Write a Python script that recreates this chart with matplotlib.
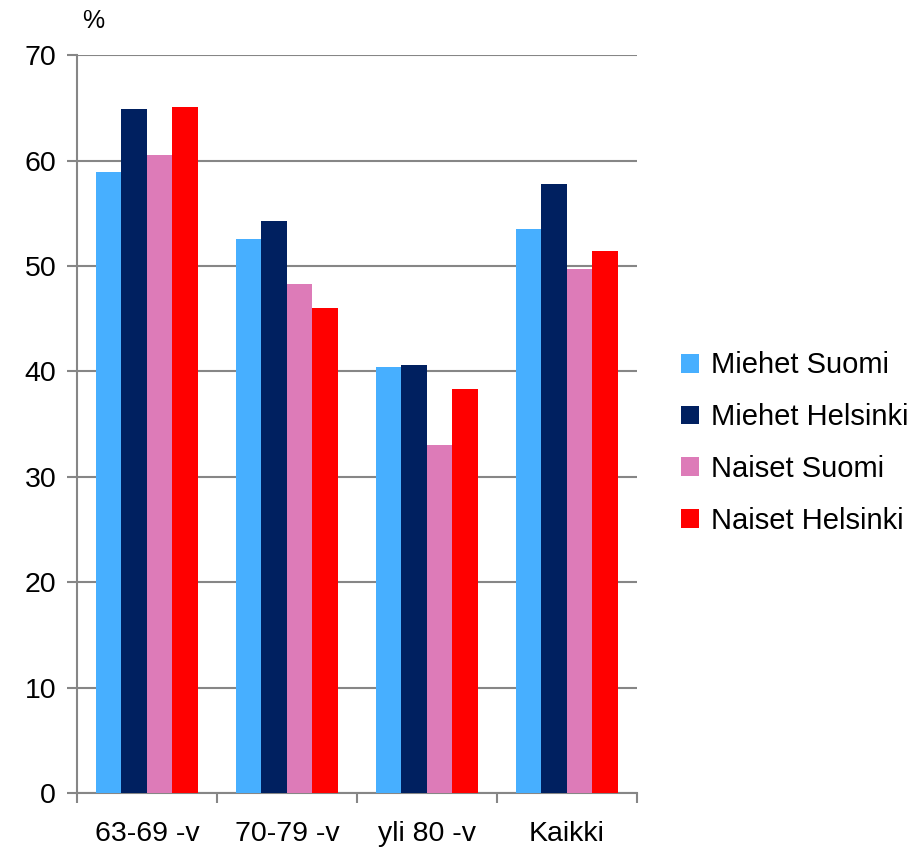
import numpy as np
import matplotlib.pyplot as plt

categories = ["63-69 -v", "70-79 -v", "yli 80 -v", "Kaikki"]
series = ["Miehet Suomi", "Miehet Helsinki", "Naiset Suomi", "Naiset Helsinki"]
miehet_suomi = [58.9, 52.6, 40.4, 53.5]
miehet_helsinki = [64.9, 54.3, 40.6, 57.8]
naiset_suomi = [60.5, 48.3, 33.0, 49.7]
naiset_helsinki = [65.1, 46.0, 38.3, 51.4]
values = [miehet_suomi, miehet_helsinki, naiset_suomi, naiset_helsinki]
colors = ["#47AFFF", "#002060", "#DD7BB8", "#FF0000"]

plt.rcParams["font.family"] = ["Liberation Sans", "DejaVu Sans"]

fig = plt.figure(figsize=(9.22, 8.49), dpi=100)
ax = fig.add_axes([0.0835, 0.066, 0.607, 0.869])

x = np.arange(len(categories))
w = 0.182
for i, (name, vals) in enumerate(zip(series, values)):
    ax.bar(x + (i - 1.5) * w, vals, w, color=colors[i], label=name, zorder=3)

ax.set_xlim(-0.5, len(categories) - 0.5)
ax.set_ylim(0, 70)
ax.set_yticks(range(0, 71, 10))
ax.yaxis.grid(True, color="#868686", linewidth=1.5, zorder=0)
ax.set_xticks(x)
ax.set_xticklabels(categories)
ax.set_xticks(np.arange(-0.5, len(categories)), minor=True)
ax.tick_params(axis="x", which="major", length=0, pad=20, labelsize=20.5)
ax.tick_params(axis="x", which="minor", length=7, width=1.5, color="#868686")
ax.tick_params(axis="y", length=7, width=1.5, color="#868686", labelsize=20.5, pad=8)
for s in ["top", "right"]:
    ax.spines[s].set_visible(False)
for s in ["left", "bottom"]:
    ax.spines[s].set_color("#868686")
    ax.spines[s].set_linewidth(1.5)
ax.text(0.01, 1.03, "%", transform=ax.transAxes, fontsize=18, ha="left", va="bottom")

ax.legend(loc="center left", bbox_to_anchor=(1.058, 0.474), frameon=False,
          fontsize=21, handlelength=0.62, handleheight=0.62, handletextpad=0.4,
          labelspacing=0.82, borderaxespad=0)

fig.savefig("out.png", dpi=100)
